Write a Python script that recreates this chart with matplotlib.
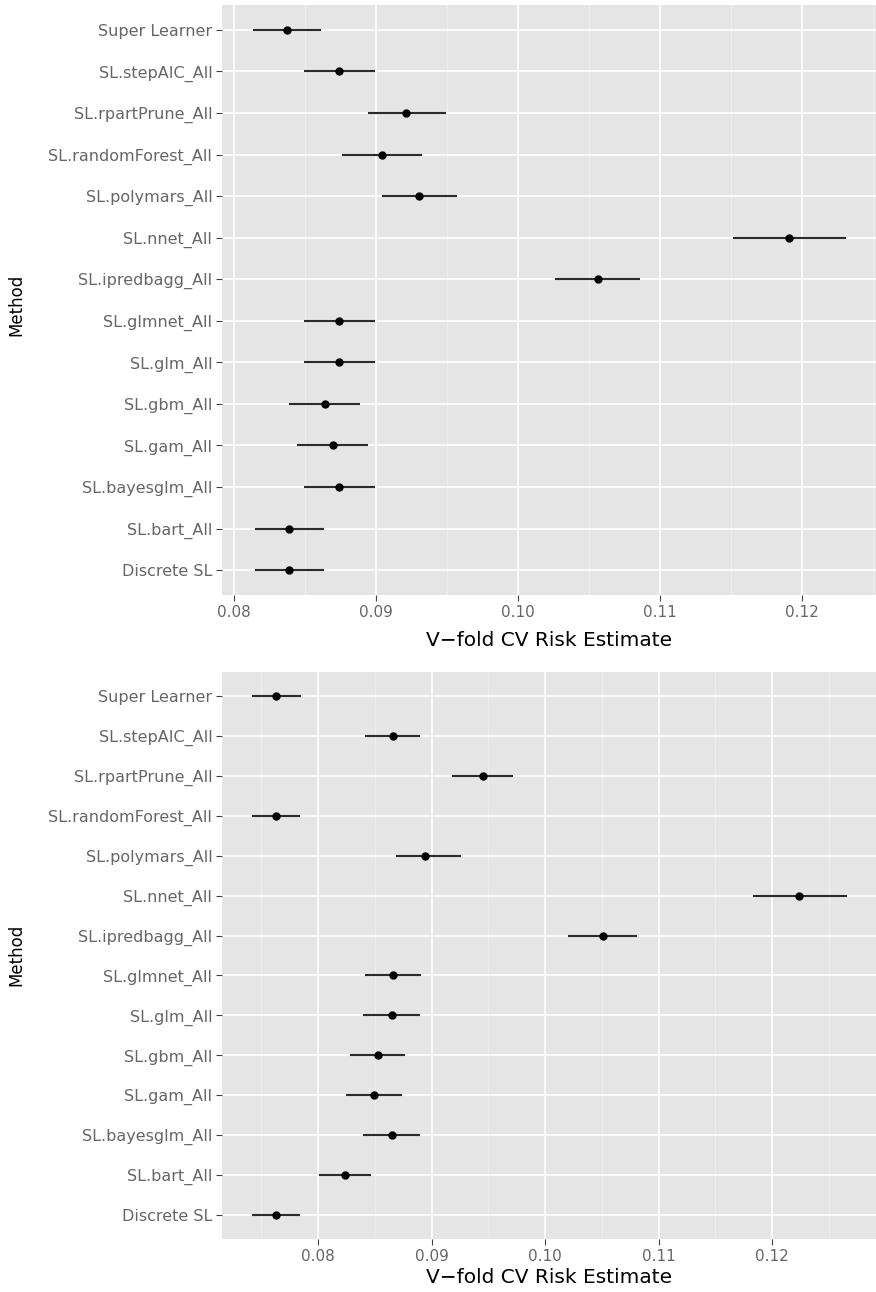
import matplotlib
matplotlib.use("Agg")
import matplotlib.pyplot as plt
from matplotlib.ticker import MultipleLocator

methods = ["Super Learner", "SL.stepAIC_All", "SL.rpartPrune_All", "SL.randomForest_All",
           "SL.polymars_All", "SL.nnet_All", "SL.ipredbagg_All", "SL.glmnet_All",
           "SL.glm_All", "SL.gbm_All", "SL.gam_All", "SL.bayesglm_All",
           "SL.bart_All", "Discrete SL"]

# top panel: risk estimate and interval ends
top_risk = [0.0837, 0.0874, 0.0921, 0.0904, 0.0930, 0.1191, 0.1056, 0.0874,
            0.0874, 0.0864, 0.0870, 0.0874, 0.0839, 0.0839]
top_lo = [0.0813, 0.0849, 0.0894, 0.0876, 0.0904, 0.1151, 0.1026, 0.0849,
          0.0849, 0.0839, 0.0844, 0.0849, 0.0815, 0.0815]
top_hi = [0.0861, 0.0899, 0.0949, 0.0932, 0.0957, 0.1231, 0.1086, 0.0899,
          0.0899, 0.0889, 0.0894, 0.0899, 0.0863, 0.0863]

# bottom panel
bot_risk = [0.0763, 0.0866, 0.0945, 0.0763, 0.0894, 0.1224, 0.1051, 0.0866,
            0.0865, 0.0853, 0.0849, 0.0865, 0.0824, 0.0763]
bot_lo = [0.0742, 0.0841, 0.0918, 0.0742, 0.0869, 0.1183, 0.1020, 0.0841,
          0.0840, 0.0828, 0.0825, 0.0840, 0.0801, 0.0742]
bot_hi = [0.0785, 0.0890, 0.0972, 0.0784, 0.0926, 0.1266, 0.1081, 0.0891,
          0.0890, 0.0877, 0.0874, 0.0890, 0.0847, 0.0784]

plt.rcParams['font.family'] = ['DejaVu Sans']

fig = plt.figure(figsize=(8.76, 12.92), dpi=100)
fig.patch.set_facecolor("white")


def panel(rect, risk, lo, hi, xlim, method_y, pad):
    ax = fig.add_axes(rect)
    ax.set_facecolor("#E5E5E5")
    ypos = list(range(len(methods)))
    ax.hlines(ypos, lo, hi, color="#2b2b2b", lw=1.5, zorder=3)
    ax.plot(risk, ypos, "o", color="black", ms=5, zorder=4)
    ax.set_xlim(xlim)
    ax.set_ylim(len(methods) - 0.4, -0.6)
    ax.set_yticks(ypos)
    ax.set_yticklabels(methods)
    ax.xaxis.set_major_locator(MultipleLocator(0.01))
    ax.xaxis.set_minor_locator(MultipleLocator(0.005))
    ax.xaxis.set_major_formatter(matplotlib.ticker.FormatStrFormatter("%.2f"))
    ax.grid(which="major", color="white", lw=1.2, zorder=1)
    ax.grid(which="minor", axis="x", color="#F0F0F0", lw=0.6, zorder=1)
    ax.set_axisbelow(True)
    for s in ax.spines.values():
        s.set_visible(False)
    ax.tick_params(axis="both", which="major", length=4, width=0.8, color="#444444",
                   labelcolor="#666666", pad=3)
    ax.tick_params(axis="y", labelsize=11.5)
    ax.tick_params(axis="x", labelsize=11)
    ax.tick_params(which="minor", length=0)
    ax.set_xlabel("V\u2212fold CV Risk Estimate", fontsize=14.5, labelpad=pad)
    fig.text(16 / 876, 1 - method_y / 1292, "Method", rotation=90, fontsize=12,
             ha="center", va="center")
    return ax


panel([222 / 876, 1 - 595 / 1292, 654 / 876, 590 / 1292], top_risk, top_lo, top_hi,
      (0.07915, 0.1252), 305, 8)
panel([222 / 876, 1 - 1239 / 1292, 654 / 876, 567 / 1292], bot_risk, bot_lo, bot_hi,
      (0.07154, 0.12916), 955, 3)

fig.savefig("out.png", dpi=100)
